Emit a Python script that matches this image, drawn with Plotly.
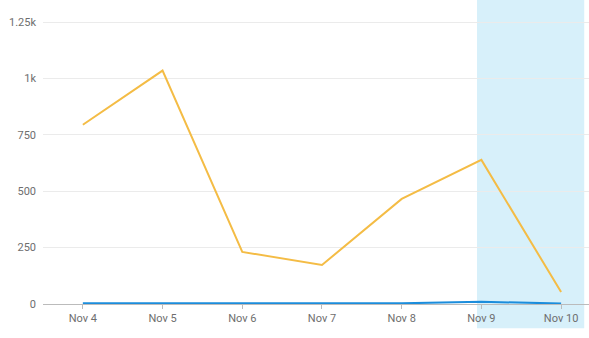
import plotly.graph_objects as go

dates = ["Nov 4", "Nov 5", "Nov 6", "Nov 7", "Nov 8", "Nov 9", "Nov 10"]
orange_vals = [795, 1035, 231, 173, 466, 639, 53]
blue_vals = [3, 3, 5, 3, 3, 10, 2]
ytick_vals = [0, 250, 500, 750, 1000, 1250]
ytick_text = ["0", "250", "500", "750", "1k", "1.25k"]

x = list(range(len(dates)))

fig = go.Figure()
fig.add_shape(type="rect", xref="x", yref="paper", x0=4.945, x1=6.29, y0=-0.08, y1=1,
              fillcolor="#D7F0FA", line_width=0, layer="below")
fig.add_trace(go.Scatter(x=x, y=orange_vals, mode="lines",
                         line=dict(color="#F4BC45", width=2), showlegend=False))
fig.add_trace(go.Scatter(x=x, y=blue_vals, mode="lines",
                         line=dict(color="#1B8DDC", width=2), showlegend=False))

fig.update_layout(
    width=589, height=338,
    margin=dict(l=43, r=0, t=0, b=34),
    plot_bgcolor="rgba(0,0,0,0)", paper_bgcolor="white",
    font=dict(family="Roboto, Arial, sans-serif", size=11, color="#6E6E6E"),
    xaxis=dict(range=[-0.5, 6.35], tickvals=x, ticktext=dates, showgrid=False,
               zeroline=False, showline=True, linecolor="#BBBBBB", linewidth=1,
               ticks="outside", ticklen=4, tickcolor="#BBBBBB", fixedrange=True),
    yaxis=dict(range=[0, 1348], tickvals=ytick_vals, ticktext=ytick_text,
               showgrid=True, gridcolor="#EBEBEB", zeroline=False, showline=False,
               ticks="", ticklabelstandoff=6),
)

fig.write_html("out.html")
